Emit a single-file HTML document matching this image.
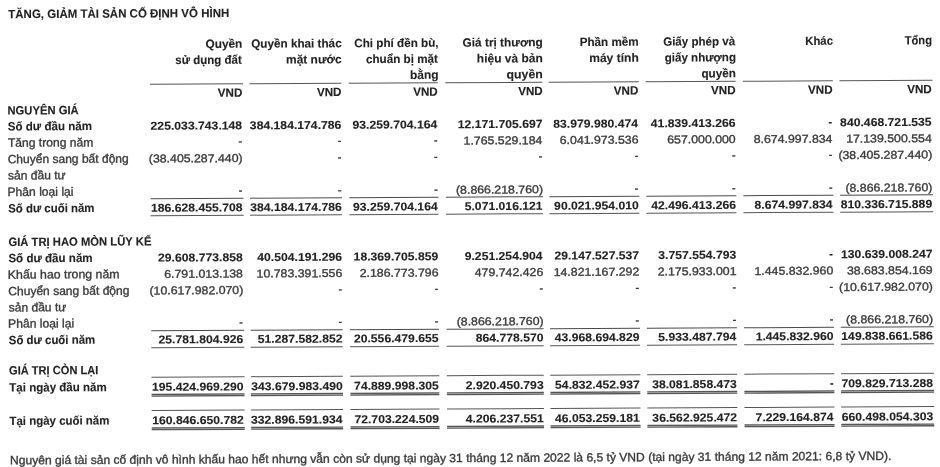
<!DOCTYPE html>
<html><head><meta charset="utf-8"><style>
html,body{margin:0;padding:0;background:#fff;}
body{width:940px;height:467px;overflow:hidden;position:relative;}
#wr{position:absolute;left:0;top:0;width:940px;height:467px;filter:grayscale(1);}
#pg{position:absolute;left:0;top:0;width:940px;height:467px;transform:rotate(-0.29deg);transform-origin:200px 250px;}
.t{position:absolute;left:0;top:0;white-space:nowrap;font-family:"Liberation Sans",sans-serif;line-height:normal;transform-origin:0 0;}
.b{font-weight:700;color:#222;-webkit-text-stroke:0.1px #222;}
.r{font-weight:400;-webkit-text-stroke:0.35px #3a3a3a;color:#3a3a3a;}
.l{position:absolute;left:0;top:0;transform-origin:0 0;}
</style></head><body><div id="wr"><div id="pg">
<div class="t b" style="transform:translate(9.46px,6.20px) scaleX(0.9580);font-size:12.0px">TĂNG, GIẢM TÀI SẢN CỐ ĐỊNH VÔ HÌNH</div>
<div class="t b" style="transform:translate(206.45px,37.00px) scaleX(0.9884);font-size:12.0px">Quyền</div>
<div class="t b" style="transform:translate(176.24px,53.00px) scaleX(0.9584);font-size:12.0px">sử dụng đất</div>
<div class="t b" style="transform:translate(252.25px,37.00px) scaleX(0.9754);font-size:12.0px">Quyền khai thác</div>
<div class="t b" style="transform:translate(286.96px,53.00px) scaleX(0.9960);font-size:12.0px">mặt nước</div>
<div class="t b" style="transform:translate(355.26px,37.00px) scaleX(0.9733);font-size:12.0px">Chi phí đền bù,</div>
<div class="t b" style="transform:translate(366.87px,53.00px) scaleX(0.9730);font-size:12.0px">chuẩn bị mặt</div>
<div class="t b" style="transform:translate(410.88px,69.00px) scaleX(0.9956);font-size:12.0px">bằng</div>
<div class="t b" style="transform:translate(463.55px,37.00px) scaleX(0.9885);font-size:12.0px">Giá trị thương</div>
<div class="t b" style="transform:translate(477.80px,53.00px) scaleX(0.9978);font-size:12.0px">hiệu và bản</div>
<div class="t b" style="transform:translate(507.37px,69.00px) scaleX(1.0252);font-size:12.0px">quyền</div>
<div class="t b" style="transform:translate(580.66px,37.00px) scaleX(0.9736);font-size:12.0px">Phần mềm</div>
<div class="t b" style="transform:translate(590.16px,53.00px) scaleX(1.0038);font-size:12.0px">máy tính</div>
<div class="t b" style="transform:translate(664.16px,37.00px) scaleX(0.9639);font-size:12.0px">Giấy phép và</div>
<div class="t b" style="transform:translate(665.68px,53.00px) scaleX(0.9642);font-size:12.0px">giấy nhượng</div>
<div class="t b" style="transform:translate(702.29px,69.00px) scaleX(0.9754);font-size:12.0px">quyền</div>
<div class="t b" style="transform:translate(806.29px,37.00px) scaleX(0.9433);font-size:12.0px">Khác</div>
<div class="t b" style="transform:translate(905.71px,37.00px) scaleX(0.9318);font-size:12.0px">Tổng</div>
<div class="l" style="transform:translate(150.84px,83.50px);width:92.50px;height:1.0px;background:#555"></div>
<div class="l" style="transform:translate(250.24px,83.50px);width:91.70px;height:1.0px;background:#555"></div>
<div class="l" style="transform:translate(349.64px,83.50px);width:89.00px;height:1.0px;background:#555"></div>
<div class="l" style="transform:translate(446.14px,83.50px);width:97.00px;height:1.0px;background:#555"></div>
<div class="l" style="transform:translate(549.64px,83.50px);width:89.70px;height:1.0px;background:#555"></div>
<div class="l" style="transform:translate(646.54px,83.50px);width:90.00px;height:1.0px;background:#555"></div>
<div class="l" style="transform:translate(743.64px,83.50px);width:89.70px;height:1.0px;background:#555"></div>
<div class="l" style="transform:translate(840.34px,83.50px);width:92.50px;height:1.0px;background:#555"></div>
<div class="t b" style="transform:translate(218.56px,85.80px) scaleX(0.9709);font-size:12.0px">VND</div>
<div class="t b" style="transform:translate(317.66px,85.80px) scaleX(0.9709);font-size:12.0px">VND</div>
<div class="t b" style="transform:translate(413.96px,85.80px) scaleX(0.9709);font-size:12.0px">VND</div>
<div class="t b" style="transform:translate(518.96px,85.80px) scaleX(0.9709);font-size:12.0px">VND</div>
<div class="t b" style="transform:translate(614.56px,85.80px) scaleX(0.9709);font-size:12.0px">VND</div>
<div class="t b" style="transform:translate(711.76px,85.80px) scaleX(0.9709);font-size:12.0px">VND</div>
<div class="t b" style="transform:translate(808.76px,85.80px) scaleX(0.9709);font-size:12.0px">VND</div>
<div class="t b" style="transform:translate(907.96px,85.80px) scaleX(0.9709);font-size:12.0px">VND</div>
<div class="t b" style="transform:translate(8.17px,102.60px) scaleX(0.9375);font-size:12.0px">NGUYÊN GIÁ</div>
<div class="t b" style="transform:translate(8.35px,118.50px) scaleX(0.9638);font-size:12.0px">Số dư đầu năm</div>
<div class="t b" style="transform:translate(151.20px,119.50px) scaleX(1.0702);font-size:11.4px">225.033.743.148</div>
<div class="t b" style="transform:translate(250.47px,119.50px) scaleX(1.0702);font-size:11.4px">384.184.174.786</div>
<div class="t b" style="transform:translate(353.17px,119.50px) scaleX(1.0702);font-size:11.4px">93.259.704.164</div>
<div class="t b" style="transform:translate(458.36px,119.50px) scaleX(1.0702);font-size:11.4px">12.171.705.697</div>
<div class="t b" style="transform:translate(553.87px,119.50px) scaleX(1.0702);font-size:11.4px">83.979.980.474</div>
<div class="t b" style="transform:translate(651.44px,119.50px) scaleX(1.0702);font-size:11.4px">41.839.413.266</div>
<div class="t b" style="transform:translate(829.21px,119.00px) scaleX(0.9500);font-size:11.4px">-</div>
<div class="t b" style="transform:translate(840.74px,119.50px) scaleX(1.0702);font-size:11.4px">840.468.721.535</div>
<div class="t r" style="transform:translate(8.46px,134.80px) scaleX(1.0067);font-size:12.0px">Tăng trong năm</div>
<div class="t r" style="transform:translate(238.96px,135.30px) scaleX(0.9500);font-size:11.4px">-</div>
<div class="t r" style="transform:translate(338.16px,135.30px) scaleX(0.9500);font-size:11.4px">-</div>
<div class="t r" style="transform:translate(434.46px,135.30px) scaleX(0.9500);font-size:11.4px">-</div>
<div class="t r" style="transform:translate(464.12px,135.80px) scaleX(1.0816);font-size:11.4px">1.765.529.184</div>
<div class="t r" style="transform:translate(560.30px,135.80px) scaleX(1.0816);font-size:11.4px">6.041.973.536</div>
<div class="t r" style="transform:translate(667.74px,135.80px) scaleX(1.0816);font-size:11.4px">657.000.000</div>
<div class="t r" style="transform:translate(754.22px,135.80px) scaleX(1.0816);font-size:11.4px">8.674.997.834</div>
<div class="t r" style="transform:translate(846.68px,135.80px) scaleX(1.0816);font-size:11.4px">17.139.500.554</div>
<div class="t r" style="transform:translate(8.10px,151.20px) scaleX(1.0025);font-size:12.0px">Chuyển sang bất động</div>
<div class="t r" style="transform:translate(8.34px,167.55px) scaleX(1.0053);font-size:12.0px">sản đầu tư</div>
<div class="t r" style="transform:translate(149.25px,152.20px) scaleX(1.0816);font-size:11.4px">(38.405.287.440)</div>
<div class="t r" style="transform:translate(338.16px,151.70px) scaleX(0.9500);font-size:11.4px">-</div>
<div class="t r" style="transform:translate(434.46px,151.70px) scaleX(0.9500);font-size:11.4px">-</div>
<div class="t r" style="transform:translate(539.16px,151.70px) scaleX(0.9500);font-size:11.4px">-</div>
<div class="t r" style="transform:translate(635.16px,151.70px) scaleX(0.9500);font-size:11.4px">-</div>
<div class="t r" style="transform:translate(732.36px,151.70px) scaleX(0.9500);font-size:11.4px">-</div>
<div class="t r" style="transform:translate(829.26px,151.70px) scaleX(0.9500);font-size:11.4px">-</div>
<div class="t r" style="transform:translate(838.85px,152.20px) scaleX(1.0816);font-size:11.4px">(38.405.287.440)</div>
<div class="t r" style="transform:translate(7.73px,184.00px) scaleX(1.0110);font-size:12.0px">Phân loại lại</div>
<div class="t r" style="transform:translate(238.96px,184.50px) scaleX(0.9500);font-size:11.4px">-</div>
<div class="t r" style="transform:translate(338.16px,184.50px) scaleX(0.9500);font-size:11.4px">-</div>
<div class="t r" style="transform:translate(434.46px,184.50px) scaleX(0.9500);font-size:11.4px">-</div>
<div class="t r" style="transform:translate(456.29px,185.00px) scaleX(1.0816);font-size:11.4px">(8.866.218.760)</div>
<div class="t r" style="transform:translate(635.16px,184.50px) scaleX(0.9500);font-size:11.4px">-</div>
<div class="t r" style="transform:translate(732.36px,184.50px) scaleX(0.9500);font-size:11.4px">-</div>
<div class="t r" style="transform:translate(829.26px,184.50px) scaleX(0.9500);font-size:11.4px">-</div>
<div class="t r" style="transform:translate(845.69px,185.00px) scaleX(1.0816);font-size:11.4px">(8.866.218.760)</div>
<div class="t b" style="transform:translate(8.36px,200.50px) scaleX(0.9522);font-size:12.0px">Số dư cuối năm</div>
<div class="t b" style="transform:translate(151.20px,201.50px) scaleX(1.0702);font-size:11.4px">186.628.455.708</div>
<div class="t b" style="transform:translate(250.47px,201.50px) scaleX(1.0702);font-size:11.4px">384.184.174.786</div>
<div class="t b" style="transform:translate(353.17px,201.50px) scaleX(1.0702);font-size:11.4px">93.259.704.164</div>
<div class="t b" style="transform:translate(464.89px,201.50px) scaleX(1.0702);font-size:11.4px">5.071.016.121</div>
<div class="t b" style="transform:translate(554.30px,201.50px) scaleX(1.0702);font-size:11.4px">90.021.954.010</div>
<div class="t b" style="transform:translate(651.44px,201.50px) scaleX(1.0702);font-size:11.4px">42.496.413.266</div>
<div class="t b" style="transform:translate(754.74px,201.50px) scaleX(1.0702);font-size:11.4px">8.674.997.834</div>
<div class="t b" style="transform:translate(840.87px,201.50px) scaleX(1.0702);font-size:11.4px">810.336.715.889</div>
<div class="l" style="transform:translate(150.85px,197.90px);width:92.50px;height:1.0px;background:#4a4a4a"></div>
<div class="l" style="transform:translate(150.85px,214.90px);width:92.50px;height:1.0px;background:#555"></div>
<div class="l" style="transform:translate(250.25px,197.90px);width:91.70px;height:1.0px;background:#4a4a4a"></div>
<div class="l" style="transform:translate(250.25px,214.90px);width:91.70px;height:1.0px;background:#555"></div>
<div class="l" style="transform:translate(349.65px,197.90px);width:89.00px;height:1.0px;background:#4a4a4a"></div>
<div class="l" style="transform:translate(349.65px,214.90px);width:89.00px;height:1.0px;background:#555"></div>
<div class="l" style="transform:translate(446.15px,197.90px);width:97.00px;height:1.0px;background:#4a4a4a"></div>
<div class="l" style="transform:translate(446.15px,214.90px);width:97.00px;height:1.0px;background:#555"></div>
<div class="l" style="transform:translate(549.65px,197.90px);width:89.70px;height:1.0px;background:#4a4a4a"></div>
<div class="l" style="transform:translate(549.65px,214.90px);width:89.70px;height:1.0px;background:#555"></div>
<div class="l" style="transform:translate(646.55px,197.90px);width:90.00px;height:1.0px;background:#4a4a4a"></div>
<div class="l" style="transform:translate(646.55px,214.90px);width:90.00px;height:1.0px;background:#555"></div>
<div class="l" style="transform:translate(743.65px,197.90px);width:89.70px;height:1.0px;background:#4a4a4a"></div>
<div class="l" style="transform:translate(743.65px,214.90px);width:89.70px;height:1.0px;background:#555"></div>
<div class="l" style="transform:translate(840.35px,197.90px);width:92.50px;height:1.0px;background:#4a4a4a"></div>
<div class="l" style="transform:translate(840.35px,214.90px);width:92.50px;height:1.0px;background:#555"></div>
<div class="t b" style="transform:translate(8.45px,234.10px) scaleX(0.9380);font-size:12.0px">GIÁ TRỊ HAO MÒN LŨY KẾ</div>
<div class="t b" style="transform:translate(8.35px,250.40px) scaleX(0.9638);font-size:12.0px">Số dư đầu năm</div>
<div class="t b" style="transform:translate(157.98px,251.40px) scaleX(1.0702);font-size:11.4px">29.608.773.858</div>
<div class="t b" style="transform:translate(257.24px,251.40px) scaleX(1.0702);font-size:11.4px">40.504.191.296</div>
<div class="t b" style="transform:translate(353.54px,251.40px) scaleX(1.0702);font-size:11.4px">18.369.705.859</div>
<div class="t b" style="transform:translate(464.64px,251.40px) scaleX(1.0702);font-size:11.4px">9.251.254.904</div>
<div class="t b" style="transform:translate(554.36px,251.40px) scaleX(1.0702);font-size:11.4px">29.147.527.537</div>
<div class="t b" style="transform:translate(658.21px,251.40px) scaleX(1.0702);font-size:11.4px">3.757.554.793</div>
<div class="t b" style="transform:translate(829.21px,250.90px) scaleX(0.9500);font-size:11.4px">-</div>
<div class="t b" style="transform:translate(840.99px,251.40px) scaleX(1.0702);font-size:11.4px">130.639.008.247</div>
<div class="t r" style="transform:translate(7.71px,266.70px) scaleX(1.0273);font-size:12.0px">Khấu hao trong năm</div>
<div class="t r" style="transform:translate(164.04px,267.70px) scaleX(1.0816);font-size:11.4px">6.791.013.138</div>
<div class="t r" style="transform:translate(256.46px,267.70px) scaleX(1.0816);font-size:11.4px">10.783.391.556</div>
<div class="t r" style="transform:translate(359.60px,267.70px) scaleX(1.0816);font-size:11.4px">2.186.773.796</div>
<div class="t r" style="transform:translate(474.60px,267.70px) scaleX(1.0816);font-size:11.4px">479.742.426</div>
<div class="t r" style="transform:translate(553.52px,267.70px) scaleX(1.0816);font-size:11.4px">14.821.167.292</div>
<div class="t r" style="transform:translate(657.57px,267.70px) scaleX(1.0816);font-size:11.4px">2.175.933.001</div>
<div class="t r" style="transform:translate(754.34px,267.70px) scaleX(1.0816);font-size:11.4px">1.445.832.960</div>
<div class="t r" style="transform:translate(846.86px,267.70px) scaleX(1.0816);font-size:11.4px">38.683.854.169</div>
<div class="t r" style="transform:translate(8.10px,283.20px) scaleX(1.0025);font-size:12.0px">Chuyển sang bất động</div>
<div class="t r" style="transform:translate(8.34px,299.55px) scaleX(1.0053);font-size:12.0px">sản đầu tư</div>
<div class="t r" style="transform:translate(149.25px,284.20px) scaleX(1.0816);font-size:11.4px">(10.617.982.070)</div>
<div class="t r" style="transform:translate(338.16px,283.70px) scaleX(0.9500);font-size:11.4px">-</div>
<div class="t r" style="transform:translate(434.46px,283.70px) scaleX(0.9500);font-size:11.4px">-</div>
<div class="t r" style="transform:translate(539.16px,283.70px) scaleX(0.9500);font-size:11.4px">-</div>
<div class="t r" style="transform:translate(635.16px,283.70px) scaleX(0.9500);font-size:11.4px">-</div>
<div class="t r" style="transform:translate(732.36px,283.70px) scaleX(0.9500);font-size:11.4px">-</div>
<div class="t r" style="transform:translate(829.26px,283.70px) scaleX(0.9500);font-size:11.4px">-</div>
<div class="t r" style="transform:translate(838.85px,284.20px) scaleX(1.0816);font-size:11.4px">(10.617.982.070)</div>
<div class="t r" style="transform:translate(7.73px,315.70px) scaleX(1.0110);font-size:12.0px">Phân loại lại</div>
<div class="t r" style="transform:translate(238.96px,316.20px) scaleX(0.9500);font-size:11.4px">-</div>
<div class="t r" style="transform:translate(338.16px,316.20px) scaleX(0.9500);font-size:11.4px">-</div>
<div class="t r" style="transform:translate(434.46px,316.20px) scaleX(0.9500);font-size:11.4px">-</div>
<div class="t r" style="transform:translate(456.29px,316.70px) scaleX(1.0816);font-size:11.4px">(8.866.218.760)</div>
<div class="t r" style="transform:translate(635.16px,316.20px) scaleX(0.9500);font-size:11.4px">-</div>
<div class="t r" style="transform:translate(732.36px,316.20px) scaleX(0.9500);font-size:11.4px">-</div>
<div class="t r" style="transform:translate(829.26px,316.20px) scaleX(0.9500);font-size:11.4px">-</div>
<div class="t r" style="transform:translate(845.69px,316.70px) scaleX(1.0816);font-size:11.4px">(8.866.218.760)</div>
<div class="t b" style="transform:translate(8.36px,332.20px) scaleX(0.9522);font-size:12.0px">Số dư cuối năm</div>
<div class="t b" style="transform:translate(158.04px,333.20px) scaleX(1.0702);font-size:11.4px">25.781.804.926</div>
<div class="t b" style="transform:translate(257.30px,333.20px) scaleX(1.0702);font-size:11.4px">51.287.582.852</div>
<div class="t b" style="transform:translate(353.41px,333.20px) scaleX(1.0702);font-size:11.4px">20.556.479.655</div>
<div class="t b" style="transform:translate(475.26px,333.20px) scaleX(1.0702);font-size:11.4px">864.778.570</div>
<div class="t b" style="transform:translate(554.24px,333.20px) scaleX(1.0702);font-size:11.4px">43.968.694.829</div>
<div class="t b" style="transform:translate(657.84px,333.20px) scaleX(1.0702);font-size:11.4px">5.933.487.794</div>
<div class="t b" style="transform:translate(755.17px,333.20px) scaleX(1.0702);font-size:11.4px">1.445.832.960</div>
<div class="t b" style="transform:translate(840.87px,333.20px) scaleX(1.0702);font-size:11.4px">149.838.661.586</div>
<div class="l" style="transform:translate(150.85px,330.00px);width:92.50px;height:1.0px;background:#4a4a4a"></div>
<div class="l" style="transform:translate(150.85px,347.00px);width:92.50px;height:1.0px;background:#555"></div>
<div class="l" style="transform:translate(250.25px,330.00px);width:91.70px;height:1.0px;background:#4a4a4a"></div>
<div class="l" style="transform:translate(250.25px,347.00px);width:91.70px;height:1.0px;background:#555"></div>
<div class="l" style="transform:translate(349.65px,330.00px);width:89.00px;height:1.0px;background:#4a4a4a"></div>
<div class="l" style="transform:translate(349.65px,347.00px);width:89.00px;height:1.0px;background:#555"></div>
<div class="l" style="transform:translate(446.15px,330.00px);width:97.00px;height:1.0px;background:#4a4a4a"></div>
<div class="l" style="transform:translate(446.15px,347.00px);width:97.00px;height:1.0px;background:#555"></div>
<div class="l" style="transform:translate(549.65px,330.00px);width:89.70px;height:1.0px;background:#4a4a4a"></div>
<div class="l" style="transform:translate(549.65px,347.00px);width:89.70px;height:1.0px;background:#555"></div>
<div class="l" style="transform:translate(646.55px,330.00px);width:90.00px;height:1.0px;background:#4a4a4a"></div>
<div class="l" style="transform:translate(646.55px,347.00px);width:90.00px;height:1.0px;background:#555"></div>
<div class="l" style="transform:translate(743.65px,330.00px);width:89.70px;height:1.0px;background:#4a4a4a"></div>
<div class="l" style="transform:translate(743.65px,347.00px);width:89.70px;height:1.0px;background:#555"></div>
<div class="l" style="transform:translate(840.35px,330.00px);width:92.50px;height:1.0px;background:#4a4a4a"></div>
<div class="l" style="transform:translate(840.35px,347.00px);width:92.50px;height:1.0px;background:#555"></div>
<div class="t b" style="transform:translate(8.46px,362.60px) scaleX(0.9230);font-size:12.0px">GIÁ TRỊ CÒN LẠI</div>
<div class="t b" style="transform:translate(8.58px,379.60px) scaleX(0.9618);font-size:12.0px">Tại ngày đầu năm</div>
<div class="t b" style="transform:translate(151.33px,380.60px) scaleX(1.0702);font-size:11.4px">195.424.969.290</div>
<div class="t b" style="transform:translate(250.53px,380.60px) scaleX(1.0702);font-size:11.4px">343.679.983.490</div>
<div class="t b" style="transform:translate(353.41px,380.60px) scaleX(1.0702);font-size:11.4px">74.889.998.305</div>
<div class="t b" style="transform:translate(465.01px,380.60px) scaleX(1.0702);font-size:11.4px">2.920.450.793</div>
<div class="t b" style="transform:translate(554.36px,380.60px) scaleX(1.0702);font-size:11.4px">54.832.452.937</div>
<div class="t b" style="transform:translate(651.44px,380.60px) scaleX(1.0702);font-size:11.4px">38.081.858.473</div>
<div class="t b" style="transform:translate(829.21px,380.10px) scaleX(0.9500);font-size:11.4px">-</div>
<div class="t b" style="transform:translate(840.80px,380.60px) scaleX(1.0702);font-size:11.4px">709.829.713.288</div>
<div class="l" style="transform:translate(150.85px,376.40px);width:92.50px;height:1.0px;background:#555"></div>
<div class="l" style="transform:translate(150.85px,393.50px);width:92.50px;height:3.2px;background:linear-gradient(#555 0,#555 30%,#9a9a9a 42%,#9a9a9a 58%,#555 70%,#555 100%)"></div>
<div class="l" style="transform:translate(250.25px,376.40px);width:91.70px;height:1.0px;background:#555"></div>
<div class="l" style="transform:translate(250.25px,393.50px);width:91.70px;height:3.2px;background:linear-gradient(#555 0,#555 30%,#9a9a9a 42%,#9a9a9a 58%,#555 70%,#555 100%)"></div>
<div class="l" style="transform:translate(349.65px,376.40px);width:89.00px;height:1.0px;background:#555"></div>
<div class="l" style="transform:translate(349.65px,393.50px);width:89.00px;height:3.2px;background:linear-gradient(#555 0,#555 30%,#9a9a9a 42%,#9a9a9a 58%,#555 70%,#555 100%)"></div>
<div class="l" style="transform:translate(446.15px,376.40px);width:97.00px;height:1.0px;background:#555"></div>
<div class="l" style="transform:translate(446.15px,393.50px);width:97.00px;height:3.2px;background:linear-gradient(#555 0,#555 30%,#9a9a9a 42%,#9a9a9a 58%,#555 70%,#555 100%)"></div>
<div class="l" style="transform:translate(549.65px,376.40px);width:89.70px;height:1.0px;background:#555"></div>
<div class="l" style="transform:translate(549.65px,393.50px);width:89.70px;height:3.2px;background:linear-gradient(#555 0,#555 30%,#9a9a9a 42%,#9a9a9a 58%,#555 70%,#555 100%)"></div>
<div class="l" style="transform:translate(646.55px,376.40px);width:90.00px;height:1.0px;background:#555"></div>
<div class="l" style="transform:translate(646.55px,393.50px);width:90.00px;height:3.2px;background:linear-gradient(#555 0,#555 30%,#9a9a9a 42%,#9a9a9a 58%,#555 70%,#555 100%)"></div>
<div class="l" style="transform:translate(743.65px,376.40px);width:89.70px;height:1.0px;background:#555"></div>
<div class="l" style="transform:translate(743.65px,393.50px);width:89.70px;height:3.2px;background:linear-gradient(#555 0,#555 30%,#9a9a9a 42%,#9a9a9a 58%,#555 70%,#555 100%)"></div>
<div class="l" style="transform:translate(840.35px,376.40px);width:92.50px;height:1.0px;background:#555"></div>
<div class="l" style="transform:translate(840.35px,393.50px);width:92.50px;height:3.2px;background:linear-gradient(#555 0,#555 30%,#9a9a9a 42%,#9a9a9a 58%,#555 70%,#555 100%)"></div>
<div class="t b" style="transform:translate(8.59px,413.00px) scaleX(0.9547);font-size:12.0px">Tại ngày cuối năm</div>
<div class="t b" style="transform:translate(151.33px,414.00px) scaleX(1.0702);font-size:11.4px">160.846.650.782</div>
<div class="t b" style="transform:translate(250.10px,414.00px) scaleX(1.0702);font-size:11.4px">332.896.591.934</div>
<div class="t b" style="transform:translate(353.54px,414.00px) scaleX(1.0702);font-size:11.4px">72.703.224.509</div>
<div class="t b" style="transform:translate(464.89px,414.00px) scaleX(1.0702);font-size:11.4px">4.206.237.551</div>
<div class="t b" style="transform:translate(554.12px,414.00px) scaleX(1.0702);font-size:11.4px">46.053.259.181</div>
<div class="t b" style="transform:translate(651.50px,414.00px) scaleX(1.0702);font-size:11.4px">36.562.925.472</div>
<div class="t b" style="transform:translate(754.74px,414.00px) scaleX(1.0702);font-size:11.4px">7.229.164.874</div>
<div class="t b" style="transform:translate(840.87px,414.00px) scaleX(1.0702);font-size:11.4px">660.498.054.303</div>
<div class="l" style="transform:translate(150.85px,409.80px);width:92.50px;height:1.0px;background:#555"></div>
<div class="l" style="transform:translate(150.85px,427.10px);width:92.50px;height:3.2px;background:linear-gradient(#555 0,#555 30%,#9a9a9a 42%,#9a9a9a 58%,#555 70%,#555 100%)"></div>
<div class="l" style="transform:translate(250.25px,409.80px);width:91.70px;height:1.0px;background:#555"></div>
<div class="l" style="transform:translate(250.25px,427.10px);width:91.70px;height:3.2px;background:linear-gradient(#555 0,#555 30%,#9a9a9a 42%,#9a9a9a 58%,#555 70%,#555 100%)"></div>
<div class="l" style="transform:translate(349.65px,409.80px);width:89.00px;height:1.0px;background:#555"></div>
<div class="l" style="transform:translate(349.65px,427.10px);width:89.00px;height:3.2px;background:linear-gradient(#555 0,#555 30%,#9a9a9a 42%,#9a9a9a 58%,#555 70%,#555 100%)"></div>
<div class="l" style="transform:translate(446.15px,409.80px);width:97.00px;height:1.0px;background:#555"></div>
<div class="l" style="transform:translate(446.15px,427.10px);width:97.00px;height:3.2px;background:linear-gradient(#555 0,#555 30%,#9a9a9a 42%,#9a9a9a 58%,#555 70%,#555 100%)"></div>
<div class="l" style="transform:translate(549.65px,409.80px);width:89.70px;height:1.0px;background:#555"></div>
<div class="l" style="transform:translate(549.65px,427.10px);width:89.70px;height:3.2px;background:linear-gradient(#555 0,#555 30%,#9a9a9a 42%,#9a9a9a 58%,#555 70%,#555 100%)"></div>
<div class="l" style="transform:translate(646.55px,409.80px);width:90.00px;height:1.0px;background:#555"></div>
<div class="l" style="transform:translate(646.55px,427.10px);width:90.00px;height:3.2px;background:linear-gradient(#555 0,#555 30%,#9a9a9a 42%,#9a9a9a 58%,#555 70%,#555 100%)"></div>
<div class="l" style="transform:translate(743.65px,409.80px);width:89.70px;height:1.0px;background:#555"></div>
<div class="l" style="transform:translate(743.65px,427.10px);width:89.70px;height:3.2px;background:linear-gradient(#555 0,#555 30%,#9a9a9a 42%,#9a9a9a 58%,#555 70%,#555 100%)"></div>
<div class="l" style="transform:translate(840.35px,409.80px);width:92.50px;height:1.0px;background:#555"></div>
<div class="l" style="transform:translate(840.35px,427.10px);width:92.50px;height:3.2px;background:linear-gradient(#555 0,#555 30%,#9a9a9a 42%,#9a9a9a 58%,#555 70%,#555 100%)"></div>
<div class="t r" style="transform:translate(8.95px,452.40px) scaleX(1.0068);font-size:12.0px">Nguyên giá tài sản cố định vô hình khấu hao hết nhưng vẫn còn sử dụng tại ngày 31 tháng 12 năm 2022 là 6,5 tỷ VND (tại ngày 31 tháng 12 năm 2021: 6,8 tỷ VND).</div>
</div></div></body></html>
